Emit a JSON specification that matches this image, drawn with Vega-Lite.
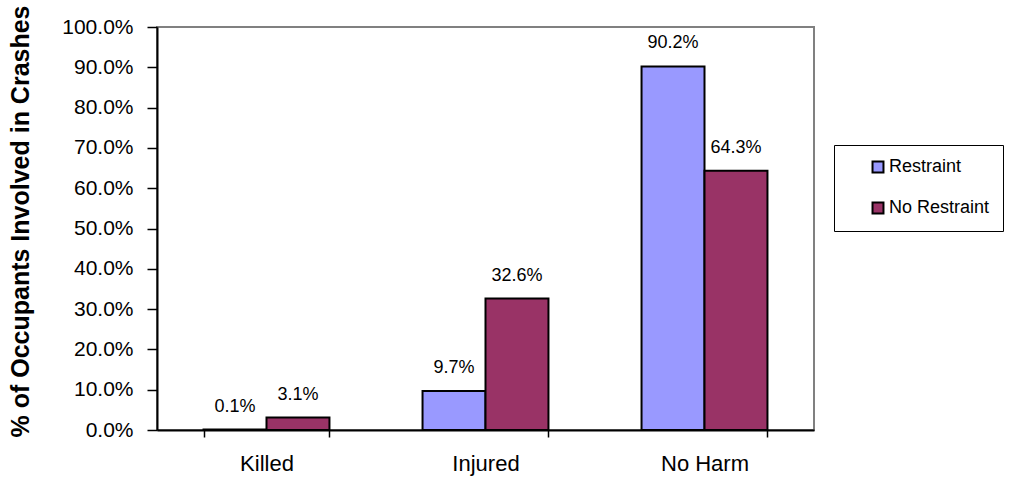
{
  "$schema": "https://vega.github.io/schema/vega-lite/v6.json",
  "autosize": {"type": "none"},
  "width": 657,
  "height": 403,
  "padding": {"left": 157, "top": 27, "right": 199, "bottom": 52},
  "background": "white",
  "config": {
    "font": "Liberation Sans",
    "view": {"stroke": "#808080", "strokeWidth": 2},
    "axis": {"zindex": 1, "domainColor": "black", "domainWidth": 2, "tickColor": "black", "tickWidth": 1.5, "labelColor": "black", "titleColor": "black", "grid": false, "labelFont": "Liberation Sans", "titleFont": "Liberation Sans"},
    "legend": {"strokeColor": "black", "fillColor": "white", "padding": 13, "symbolOffset": 22, "symbolType": "square", "symbolSize": 120, "symbolStrokeColor": "black", "symbolStrokeWidth": 2, "labelFontSize": 18, "labelOffset": 2, "rowPadding": 21, "labelColor": "black", "labelFont": "Liberation Sans"}
  },
  "data": {
    "values": [
      {"outcome": "Killed", "group": "Restraint", "pct": 0.001},
      {"outcome": "Killed", "group": "No Restraint", "pct": 0.031},
      {"outcome": "Injured", "group": "Restraint", "pct": 0.097},
      {"outcome": "Injured", "group": "No Restraint", "pct": 0.326},
      {"outcome": "No Harm", "group": "Restraint", "pct": 0.902},
      {"outcome": "No Harm", "group": "No Restraint", "pct": 0.643}
    ]
  },
  "encoding": {
    "x": {
      "field": "outcome", "type": "nominal", "sort": ["Killed", "Injured", "No Harm"],
      "scale": {"paddingInner": 0.425, "paddingOuter": 0.2125},
      "axis": {"title": null, "labelAngle": 0, "labelFontSize": 22, "labelPadding": 16, "tickSize": 7, "tickBand": "extent"}
    },
    "xOffset": {"field": "group", "type": "nominal", "sort": ["Restraint", "No Restraint"], "scale": {"paddingInner": 0, "paddingOuter": 0}},
    "y": {
      "field": "pct", "type": "quantitative",
      "scale": {"domain": [0, 1], "nice": false},
      "axis": {"title": "% of Occupants Involved in Crashes", "format": ".1%", "values": [0, 0.1, 0.2, 0.3, 0.4, 0.5, 0.6, 0.7, 0.8, 0.9, 1.0], "labelFontSize": 21, "labelPadding": 14, "tickSize": 10, "titleFontSize": 25, "titleFontWeight": "bold", "titleX": -137, "titleY": 194, "titleAlign": "center", "titleBaseline": "middle", "titleAngle": -90}
    }
  },
  "layer": [
    {
      "mark": {"type": "bar", "stroke": "black", "strokeWidth": 2},
      "encoding": {
        "color": {
          "field": "group", "type": "nominal", "sort": ["Restraint", "No Restraint"],
          "scale": {"domain": ["Restraint", "No Restraint"], "range": ["#9999FF", "#993366"]},
          "legend": {"title": null, "orient": "none", "legendX": 677, "legendY": 118}
        }
      }
    },
    {
      "mark": {"type": "text", "baseline": "middle", "dy": -23, "fontSize": 18, "color": "black"},
      "encoding": {
        "text": {"field": "pct", "type": "quantitative", "format": ".1%"}
      }
    }
  ]
}
